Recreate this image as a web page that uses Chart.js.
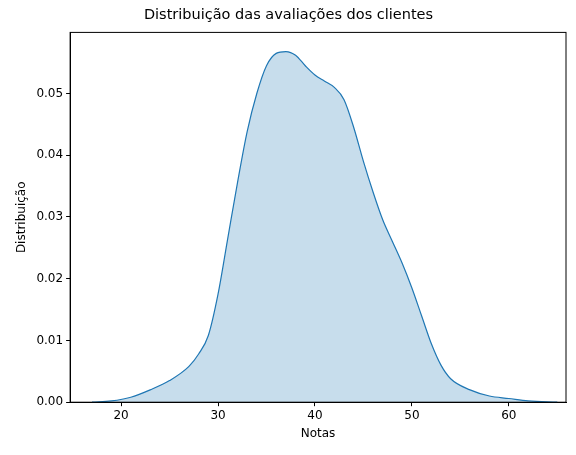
<!DOCTYPE html>
<html>
<head>
<meta charset="utf-8">
<script src="https://cdn.jsdelivr.net/npm/chart.js@4"></script>
<style>
  body { margin: 0; background: #fff; }
  #wrap { width: 576px; height: 455px; }
</style>
</head>
<body>
<div id="wrap"><canvas id="chart"></canvas></div>
<script>
// KDE curve
var notas = [17, 19, 21, 23, 25, 27, 28, 29, 30, 31, 32, 33, 34, 35, 36, 37, 38, 39, 40, 41, 42, 43, 44, 45, 46, 47, 48, 49, 50, 51, 52, 53, 54, 56, 58, 60, 62, 65];
var densidade = [0, 0.0002, 0.0008, 0.002, 0.0035, 0.0058, 0.0078, 0.0108, 0.0175, 0.0265, 0.0355, 0.0438, 0.05, 0.0545, 0.0565, 0.0568, 0.0562, 0.0545, 0.053, 0.052, 0.051, 0.049, 0.0445, 0.039, 0.034, 0.0295, 0.026, 0.0225, 0.0185, 0.014, 0.0095, 0.006, 0.0038, 0.002, 0.001, 0.0006, 0.0002, 0];
var xTicks = [20, 30, 40, 50, 60];
var yTicks = [0, 0.01, 0.02, 0.03, 0.04, 0.05];

var pts = notas.map(function (x, i) { return { x: x, y: densidade[i] }; });
var font = { family: 'DejaVu Sans', size: 12 };

new Chart(document.getElementById('chart'), {
  type: 'line',
  data: {
    datasets: [{
      data: pts,
      borderColor: '#1f77b4',
      backgroundColor: 'rgba(31,119,180,0.25)',
      borderWidth: 1.2,
      fill: 'origin',
      pointRadius: 0,
      tension: 0.4,
      cubicInterpolationMode: 'monotone'
    }]
  },
  options: {
    responsive: true,
    maintainAspectRatio: false,
    animation: false,
    layout: { padding: { left: 11, right: 10, top: 5, bottom: 12 } },
    plugins: {
      legend: { display: false },
      tooltip: { enabled: false },
      title: {
        display: true,
        text: 'Distribuição das avaliações dos clientes',
        color: '#000',
        font: { family: 'DejaVu Sans', size: 14.5, weight: 'normal' },
        padding: { top: 2, bottom: 8 }
      }
    },
    scales: {
      x: {
        type: 'linear',
        min: 14.74,
        max: 65.9,
        afterBuildTicks: function (axis) { axis.ticks = xTicks.map(function (v) { return { value: v }; }); },
        grid: { display: true, drawOnChartArea: false, drawTicks: true, tickLength: 4, tickColor: '#000' },
        border: { color: '#000' },
        ticks: { color: '#000', font: font, maxRotation: 0, padding: 2 },
        title: { display: true, text: 'Notas', color: '#000', font: font, padding: 2 }
      },
      y: {
        min: 0,
        max: 0.0599,
        afterBuildTicks: function (axis) { axis.ticks = yTicks.map(function (v) { return { value: v }; }); },
        grid: { display: true, drawOnChartArea: false, drawTicks: true, tickLength: 4, tickColor: '#000' },
        border: { color: '#000' },
        ticks: { color: '#000', font: font, padding: 3, callback: function (v) { return v.toFixed(2); } },
        title: { display: true, text: 'Distribuição', color: '#000', font: font, padding: 4 }
      }
    }
  },
  plugins: [{
    id: 'box',
    afterDraw: function (c) {
      var a = c.chartArea, ctx = c.ctx;
      ctx.save();
      ctx.strokeStyle = '#000';
      ctx.lineWidth = 1;
      ctx.strokeRect(a.left, a.top, a.right - a.left, a.bottom - a.top);
      ctx.restore();
    }
  }]
});
</script>
</body>
</html>
